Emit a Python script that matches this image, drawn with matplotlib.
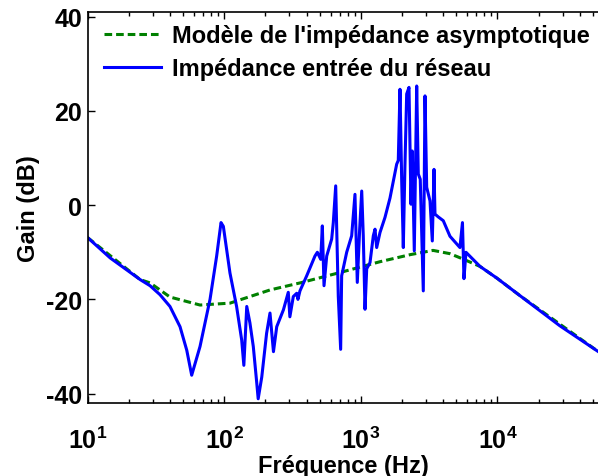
import matplotlib
matplotlib.use('Agg')
import matplotlib.pyplot as plt
from matplotlib.ticker import LogLocator, FixedLocator

# ------------------------------------------------------------
# Data (frequency in Hz, gain in dB)
# ------------------------------------------------------------
model_freq = [10, 24.2, 28.6, 40, 66.4, 110, 216, 359, 703, 1381,
              2300, 3375, 4489, 5560, 7447, 9915, 14600, 54800]
model_gain = [-6.9, -15.8, -16.5, -19.5, -21.2, -20.8, -18.0, -16.5, -14.3, -12.0,
              -10.5, -9.6, -10.3, -11.4, -13.0, -15.5, -19.2, -31.1]

net_freq = [10, 14.6, 24.2, 28.6, 33.8, 40, 47.4, 53.1, 57.7, 66.4,
            78.6, 87.9, 94.6, 98.4, 110, 123, 134, 139, 146, 154,
            163, 173, 177, 188, 204, 216, 229, 242, 271, 294,
            302, 320, 339, 346, 358, 401, 461, 480, 508, 522,
            537, 562, 611, 628, 654, 683, 711, 723, 787, 856,
            905, 941, 980, 1014, 1041, 1072, 1103, 1166, 1233, 1269,
            1305, 1380, 1501, 1633, 1828, 1878, 1933, 1990, 2044, 2100,
            2164, 2250, 2327, 2378, 2460, 2562, 2632, 2720, 2863, 2947,
            3032, 3206, 3333, 3430, 3487, 3687, 4011, 4489, 5311, 5541,
            5683, 5880, 7447, 9915, 14600, 28600, 54800]
net_gain = [-6.9, -11.2, -15.8, -17.1, -19.0, -21.5, -25.8, -30.8, -36.1, -30.0,
            -20.0, -10.8, -3.7, -4.5, -14.4, -21.5, -28.6, -34.0, -21.5, -25.0,
            -30.0, -37.9, -41.1, -36.5, -27.2, -22.9, -31.1, -25.8, -22.2, -18.5,
            -23.7, -19.4, -18.7, -20.0, -18.2, -15.0, -10.8, -10.0, -11.5, -4.4,
            -17.1, -10.8, -7.2, -3.7, 4.1, -19.3, -30.6, -15.0, -10.0, -6.5,
            2.3, -16.4, -5.0, 3.0, -6.5, -22.1, -13.5, -12.2, -6.5, -5.1,
            -9.0, -5.8, -2.6, 1.5, 8.7, 9.5, 24.6, 5.0, -9.0, 8.0,
            23.6, 25.0, 0.2, 11.5, -9.7, 25.3, 6.6, 5.5, -18.2, 23.2,
            3.8, 0.9, -7.6, 7.6, -1.9, -2.5, -3.3, -6.6, -9.0, -3.7,
            -15.6, -10.0, -13.0, -15.5, -19.2, -25.6, -31.1]

LABEL_MODEL = "Modèle de l'impédance asymptotique"
LABEL_NET = "Impédance entrée du réseau"

# ------------------------------------------------------------
# Style
# ------------------------------------------------------------
plt.rcParams['font.family'] = ['Liberation Sans', 'DejaVu Sans']
plt.rcParams['font.weight'] = 'bold'
plt.rcParams['axes.unicode_minus'] = False
plt.rcParams['mathtext.fontset'] = 'custom'
plt.rcParams['mathtext.rm'] = 'Liberation Sans:bold'
plt.rcParams['mathtext.bf'] = 'Liberation Sans:bold'
plt.rcParams['mathtext.default'] = 'bf'

FS = 17
FS_TICK = 18

fig = plt.figure(figsize=(5.98, 4.77), dpi=100)
ax = fig.add_axes([0.1467, 0.153, 0.8543, 0.8197])

ax.plot(model_freq, model_gain, color=(0, 0.5, 0), lw=2.2,
        dashes=(2.5, 1.3), label=LABEL_MODEL)
ax.plot(net_freq, net_gain, color=(0, 0, 1), lw=2.2, label=LABEL_NET)

ax.set_xscale('log')
ax.set_xlim(10, 5.5e4)
ax.set_ylim(-42, 41)

ax.xaxis.set_major_locator(LogLocator(base=10, numticks=10))
ax.xaxis.set_minor_locator(LogLocator(base=10, subs=range(2, 10), numticks=20))
ax.yaxis.set_major_locator(FixedLocator([-40, -20, 0, 20, 40]))

ax.tick_params(which='both', direction='in', top=True, right=False,
               labelsize=FS_TICK, width=1)
ax.tick_params(which='major', length=5)
ax.tick_params(which='minor', length=3)
ax.tick_params(axis='x', pad=17)
ax.tick_params(axis='y', pad=4)
for lbl in ax.get_yticklabels():
    lbl.set_fontweight('bold')

for side in ['left', 'bottom', 'top']:
    ax.spines[side].set_linewidth(1.2)
ax.spines['right'].set_visible(False)

ax.set_xlabel("Fréquence (Hz)", fontsize=FS, fontweight='bold', labelpad=1)
ax.set_ylabel("Gain (dB)", fontsize=FS, fontweight='bold', labelpad=4)

ax.legend(loc='upper left', bbox_to_anchor=(0.0, 1.012), frameon=False,
          prop={'size': FS, 'weight': 'bold'}, handlelength=2.4,
          handletextpad=0.45, labelspacing=0.45, borderaxespad=0.3)

fig.savefig('out.png', dpi=100)
